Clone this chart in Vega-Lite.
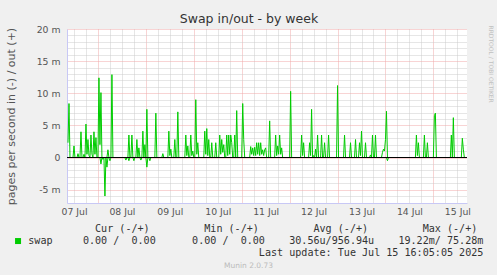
{
  "$schema": "https://vega.github.io/schema/vega-lite/v6.json",
  "width": 400,
  "height": 174,
  "autosize": {"type": "none"},
  "padding": {"left": 67, "top": 29, "right": 30, "bottom": 72},
  "background": "#f0f0f0",
  "title": {"text": "Swap in/out - by week", "font": "DejaVu Sans", "fontSize": 12.5, "fontWeight": "normal", "color": "#333333", "anchor": "middle", "frame": "group", "dx": -18, "offset": 0},
  "config": {"view": {"fill": "#ffffff", "stroke": null}, "font": "DejaVu Sans"},
  "data": {"values": [
    {"t":"2025-07-07T09:00:00Z","o":0.0023,"i":0},
    {"t":"2025-07-07T09:30:00Z","o":0.0084,"i":0},
    {"t":"2025-07-07T10:00:00Z","o":0,"i":0},
    {"t":"2025-07-07T11:30:00Z","o":0,"i":0},
    {"t":"2025-07-07T12:00:00Z","o":0.0018,"i":0},
    {"t":"2025-07-07T12:30:00Z","o":0,"i":0},
    {"t":"2025-07-07T13:30:00Z","o":0,"i":0},
    {"t":"2025-07-07T14:00:00Z","o":0.0006,"i":0},
    {"t":"2025-07-07T14:30:00Z","o":0,"i":0},
    {"t":"2025-07-07T15:00:00Z","o":0,"i":0},
    {"t":"2025-07-07T15:30:00Z","o":0.004,"i":0},
    {"t":"2025-07-07T16:00:00Z","o":0,"i":0},
    {"t":"2025-07-07T16:30:00Z","o":0,"i":0},
    {"t":"2025-07-07T17:00:00Z","o":0.0005,"i":0},
    {"t":"2025-07-07T17:30:00Z","o":0,"i":0},
    {"t":"2025-07-07T18:00:00Z","o":0.0052,"i":0},
    {"t":"2025-07-07T18:30:00Z","o":0.0005,"i":0},
    {"t":"2025-07-07T19:00:00Z","o":0.0028,"i":0},
    {"t":"2025-07-07T19:30:00Z","o":0.0003,"i":0},
    {"t":"2025-07-07T20:00:00Z","o":0,"i":0},
    {"t":"2025-07-07T20:30:00Z","o":0.0035,"i":0},
    {"t":"2025-07-07T21:00:00Z","o":0.0005,"i":0},
    {"t":"2025-07-07T21:30:00Z","o":0,"i":0},
    {"t":"2025-07-07T22:00:00Z","o":0.004,"i":0},
    {"t":"2025-07-07T22:30:00Z","o":0.0005,"i":0},
    {"t":"2025-07-07T23:00:00Z","o":0.0031,"i":0},
    {"t":"2025-07-07T23:30:00Z","o":0,"i":0},
    {"t":"2025-07-08T00:00:00Z","o":0,"i":0},
    {"t":"2025-07-08T00:30:00Z","o":0.0124,"i":0},
    {"t":"2025-07-08T01:00:00Z","o":0.002,"i":0},
    {"t":"2025-07-08T01:30:00Z","o":0.0101,"i":-0.001},
    {"t":"2025-07-08T02:00:00Z","o":0,"i":0},
    {"t":"2025-07-08T02:30:00Z","o":0,"i":-0.0003},
    {"t":"2025-07-08T03:00:00Z","o":0,"i":0},
    {"t":"2025-07-08T03:30:00Z","o":0,"i":-0.006},
    {"t":"2025-07-08T04:00:00Z","o":0,"i":0},
    {"t":"2025-07-08T04:30:00Z","o":0,"i":-0.0015},
    {"t":"2025-07-08T05:00:00Z","o":0.0012,"i":0},
    {"t":"2025-07-08T05:30:00Z","o":0,"i":0},
    {"t":"2025-07-08T06:00:00Z","o":0,"i":-0.0005},
    {"t":"2025-07-08T06:30:00Z","o":0,"i":0},
    {"t":"2025-07-08T07:00:00Z","o":0.0129,"i":0},
    {"t":"2025-07-08T07:30:00Z","o":0,"i":0},
    {"t":"2025-07-08T13:30:00Z","o":0,"i":0},
    {"t":"2025-07-08T14:00:00Z","o":0,"i":-0.0004},
    {"t":"2025-07-08T14:30:00Z","o":0,"i":0},
    {"t":"2025-07-08T15:00:00Z","o":0,"i":0},
    {"t":"2025-07-08T15:30:00Z","o":0.0035,"i":-0.0005},
    {"t":"2025-07-08T16:00:00Z","o":0,"i":0},
    {"t":"2025-07-08T16:30:00Z","o":0,"i":0},
    {"t":"2025-07-08T17:00:00Z","o":0.0035,"i":0},
    {"t":"2025-07-08T17:30:00Z","o":0,"i":0},
    {"t":"2025-07-08T18:00:00Z","o":0,"i":-0.0005},
    {"t":"2025-07-08T18:30:00Z","o":0,"i":0},
    {"t":"2025-07-08T19:00:00Z","o":0,"i":0},
    {"t":"2025-07-08T19:30:00Z","o":0.0028,"i":0},
    {"t":"2025-07-08T20:00:00Z","o":0,"i":0},
    {"t":"2025-07-08T20:30:00Z","o":0.0015,"i":0},
    {"t":"2025-07-08T21:00:00Z","o":0,"i":0},
    {"t":"2025-07-08T21:30:00Z","o":0,"i":-0.0004},
    {"t":"2025-07-08T22:00:00Z","o":0,"i":0},
    {"t":"2025-07-08T22:30:00Z","o":0.0041,"i":0},
    {"t":"2025-07-08T23:00:00Z","o":0,"i":0},
    {"t":"2025-07-08T23:30:00Z","o":0.002,"i":0},
    {"t":"2025-07-09T00:00:00Z","o":0,"i":0},
    {"t":"2025-07-09T00:30:00Z","o":0.0075,"i":-0.0015},
    {"t":"2025-07-09T01:00:00Z","o":0,"i":0},
    {"t":"2025-07-09T01:30:00Z","o":0,"i":0},
    {"t":"2025-07-09T02:00:00Z","o":0,"i":-0.0005},
    {"t":"2025-07-09T02:30:00Z","o":0,"i":0},
    {"t":"2025-07-09T04:30:00Z","o":0,"i":0},
    {"t":"2025-07-09T05:00:00Z","o":0.0069,"i":0},
    {"t":"2025-07-09T05:30:00Z","o":0,"i":0},
    {"t":"2025-07-09T08:00:00Z","o":0,"i":0},
    {"t":"2025-07-09T08:30:00Z","o":0.0006,"i":0},
    {"t":"2025-07-09T09:00:00Z","o":0,"i":0},
    {"t":"2025-07-09T11:00:00Z","o":0,"i":0},
    {"t":"2025-07-09T11:30:00Z","o":0.0041,"i":0},
    {"t":"2025-07-09T12:00:00Z","o":0.0003,"i":0},
    {"t":"2025-07-09T12:30:00Z","o":0.0013,"i":0},
    {"t":"2025-07-09T13:00:00Z","o":0,"i":0},
    {"t":"2025-07-09T14:00:00Z","o":0,"i":0},
    {"t":"2025-07-09T14:30:00Z","o":0.0028,"i":0},
    {"t":"2025-07-09T15:00:00Z","o":0,"i":0},
    {"t":"2025-07-09T15:30:00Z","o":0,"i":0},
    {"t":"2025-07-09T16:00:00Z","o":0.0071,"i":0},
    {"t":"2025-07-09T16:30:00Z","o":0,"i":0},
    {"t":"2025-07-09T19:30:00Z","o":0,"i":0},
    {"t":"2025-07-09T20:00:00Z","o":0.0035,"i":0},
    {"t":"2025-07-09T20:30:00Z","o":0.0003,"i":0},
    {"t":"2025-07-09T21:00:00Z","o":0.0018,"i":0},
    {"t":"2025-07-09T21:30:00Z","o":0,"i":0},
    {"t":"2025-07-09T22:00:00Z","o":0,"i":0},
    {"t":"2025-07-09T22:30:00Z","o":0.0035,"i":0},
    {"t":"2025-07-09T23:00:00Z","o":0.0003,"i":0},
    {"t":"2025-07-09T23:30:00Z","o":0.001,"i":0},
    {"t":"2025-07-10T00:00:00Z","o":0,"i":0},
    {"t":"2025-07-10T00:30:00Z","o":0,"i":0},
    {"t":"2025-07-10T01:00:00Z","o":0.009,"i":0},
    {"t":"2025-07-10T01:30:00Z","o":0.0005,"i":0},
    {"t":"2025-07-10T02:00:00Z","o":0.0023,"i":0},
    {"t":"2025-07-10T02:30:00Z","o":0,"i":0},
    {"t":"2025-07-10T05:00:00Z","o":0,"i":0},
    {"t":"2025-07-10T05:30:00Z","o":0.0041,"i":0},
    {"t":"2025-07-10T06:00:00Z","o":0.0005,"i":0},
    {"t":"2025-07-10T06:30:00Z","o":0.0045,"i":0},
    {"t":"2025-07-10T07:00:00Z","o":0.0003,"i":0},
    {"t":"2025-07-10T07:30:00Z","o":0.0028,"i":0},
    {"t":"2025-07-10T08:00:00Z","o":0,"i":0},
    {"t":"2025-07-10T08:30:00Z","o":0,"i":0},
    {"t":"2025-07-10T09:00:00Z","o":0.0023,"i":0},
    {"t":"2025-07-10T09:30:00Z","o":0,"i":0},
    {"t":"2025-07-10T10:30:00Z","o":0,"i":0},
    {"t":"2025-07-10T11:00:00Z","o":0.0023,"i":0},
    {"t":"2025-07-10T11:30:00Z","o":0,"i":0},
    {"t":"2025-07-10T12:30:00Z","o":0,"i":0},
    {"t":"2025-07-10T13:00:00Z","o":0.0035,"i":0},
    {"t":"2025-07-10T13:30:00Z","o":0.0005,"i":0},
    {"t":"2025-07-10T14:00:00Z","o":0.0028,"i":0},
    {"t":"2025-07-10T14:30:00Z","o":0.0008,"i":0},
    {"t":"2025-07-10T15:00:00Z","o":0.002,"i":0},
    {"t":"2025-07-10T15:30:00Z","o":0,"i":0},
    {"t":"2025-07-10T16:00:00Z","o":0,"i":0},
    {"t":"2025-07-10T16:30:00Z","o":0.0035,"i":0},
    {"t":"2025-07-10T17:00:00Z","o":0.0003,"i":0},
    {"t":"2025-07-10T17:30:00Z","o":0.0035,"i":0},
    {"t":"2025-07-10T18:00:00Z","o":0.0005,"i":0},
    {"t":"2025-07-10T18:30:00Z","o":0.0035,"i":0},
    {"t":"2025-07-10T19:00:00Z","o":0.0023,"i":0},
    {"t":"2025-07-10T19:30:00Z","o":0,"i":0},
    {"t":"2025-07-10T20:00:00Z","o":0,"i":0},
    {"t":"2025-07-10T20:30:00Z","o":0.0035,"i":0},
    {"t":"2025-07-10T21:00:00Z","o":0,"i":0},
    {"t":"2025-07-10T21:30:00Z","o":0.0073,"i":0},
    {"t":"2025-07-10T22:00:00Z","o":0,"i":0},
    {"t":"2025-07-11T00:00:00Z","o":0,"i":0},
    {"t":"2025-07-11T00:30:00Z","o":0.0084,"i":0},
    {"t":"2025-07-11T01:00:00Z","o":0.0028,"i":0},
    {"t":"2025-07-11T01:30:00Z","o":0,"i":0},
    {"t":"2025-07-11T04:00:00Z","o":0,"i":0},
    {"t":"2025-07-11T04:30:00Z","o":0.0017,"i":0},
    {"t":"2025-07-11T05:00:00Z","o":0.0005,"i":0},
    {"t":"2025-07-11T05:30:00Z","o":0.0015,"i":0},
    {"t":"2025-07-11T06:00:00Z","o":0.0003,"i":0},
    {"t":"2025-07-11T06:30:00Z","o":0.0016,"i":0},
    {"t":"2025-07-11T07:00:00Z","o":0.0003,"i":0},
    {"t":"2025-07-11T07:30:00Z","o":0.0023,"i":0},
    {"t":"2025-07-11T08:00:00Z","o":0.0005,"i":0},
    {"t":"2025-07-11T08:30:00Z","o":0.0023,"i":0},
    {"t":"2025-07-11T09:00:00Z","o":0.0003,"i":0},
    {"t":"2025-07-11T09:30:00Z","o":0.0023,"i":0},
    {"t":"2025-07-11T10:00:00Z","o":0.0005,"i":0},
    {"t":"2025-07-11T10:30:00Z","o":0.0012,"i":0},
    {"t":"2025-07-11T11:00:00Z","o":0.0003,"i":0},
    {"t":"2025-07-11T11:30:00Z","o":0.0012,"i":0},
    {"t":"2025-07-11T12:00:00Z","o":0.0015,"i":0},
    {"t":"2025-07-11T12:30:00Z","o":0,"i":0},
    {"t":"2025-07-11T13:30:00Z","o":0,"i":0},
    {"t":"2025-07-11T14:00:00Z","o":0.0057,"i":0},
    {"t":"2025-07-11T14:30:00Z","o":0,"i":0},
    {"t":"2025-07-11T16:30:00Z","o":0,"i":0},
    {"t":"2025-07-11T17:00:00Z","o":0.0035,"i":0},
    {"t":"2025-07-11T17:30:00Z","o":0.0003,"i":0},
    {"t":"2025-07-11T18:00:00Z","o":0.0018,"i":0},
    {"t":"2025-07-11T18:30:00Z","o":0.0005,"i":0},
    {"t":"2025-07-11T19:00:00Z","o":0.0035,"i":0},
    {"t":"2025-07-11T19:30:00Z","o":0.0005,"i":0},
    {"t":"2025-07-11T20:00:00Z","o":0.0015,"i":0},
    {"t":"2025-07-11T20:30:00Z","o":0,"i":0},
    {"t":"2025-07-12T00:00:00Z","o":0,"i":0},
    {"t":"2025-07-12T00:30:00Z","o":0.0103,"i":0},
    {"t":"2025-07-12T01:00:00Z","o":0,"i":0},
    {"t":"2025-07-12T05:30:00Z","o":0,"i":0},
    {"t":"2025-07-12T06:00:00Z","o":0.0035,"i":0},
    {"t":"2025-07-12T06:30:00Z","o":0.0003,"i":0},
    {"t":"2025-07-12T07:00:00Z","o":0.0023,"i":0},
    {"t":"2025-07-12T07:30:00Z","o":0,"i":0},
    {"t":"2025-07-12T09:30:00Z","o":0,"i":0},
    {"t":"2025-07-12T10:00:00Z","o":0.0023,"i":0},
    {"t":"2025-07-12T10:30:00Z","o":0.0003,"i":0},
    {"t":"2025-07-12T11:00:00Z","o":0.0075,"i":0},
    {"t":"2025-07-12T11:30:00Z","o":0,"i":0},
    {"t":"2025-07-12T12:00:00Z","o":0.0003,"i":0},
    {"t":"2025-07-12T12:30:00Z","o":0,"i":0},
    {"t":"2025-07-12T13:00:00Z","o":0.0013,"i":0},
    {"t":"2025-07-12T13:30:00Z","o":0,"i":0},
    {"t":"2025-07-12T14:00:00Z","o":0.0035,"i":0},
    {"t":"2025-07-12T14:30:00Z","o":0,"i":0},
    {"t":"2025-07-12T15:30:00Z","o":0,"i":0},
    {"t":"2025-07-12T16:00:00Z","o":0.0035,"i":0},
    {"t":"2025-07-12T16:30:00Z","o":0,"i":0},
    {"t":"2025-07-12T17:00:00Z","o":0,"i":0},
    {"t":"2025-07-12T17:30:00Z","o":0.0023,"i":0},
    {"t":"2025-07-12T18:00:00Z","o":0,"i":0},
    {"t":"2025-07-12T19:00:00Z","o":0,"i":0},
    {"t":"2025-07-12T19:30:00Z","o":0.0035,"i":0},
    {"t":"2025-07-12T20:00:00Z","o":0,"i":0},
    {"t":"2025-07-12T23:30:00Z","o":0,"i":0},
    {"t":"2025-07-13T00:00:00Z","o":0.0112,"i":0},
    {"t":"2025-07-13T00:30:00Z","o":0,"i":0},
    {"t":"2025-07-13T03:00:00Z","o":0,"i":0},
    {"t":"2025-07-13T03:30:00Z","o":0.0035,"i":0},
    {"t":"2025-07-13T04:00:00Z","o":0,"i":0},
    {"t":"2025-07-13T06:00:00Z","o":0,"i":0},
    {"t":"2025-07-13T06:30:00Z","o":0.0023,"i":0},
    {"t":"2025-07-13T07:00:00Z","o":0,"i":0},
    {"t":"2025-07-13T08:30:00Z","o":0,"i":0},
    {"t":"2025-07-13T09:00:00Z","o":0.0028,"i":0},
    {"t":"2025-07-13T09:30:00Z","o":0,"i":0},
    {"t":"2025-07-13T10:30:00Z","o":0,"i":0},
    {"t":"2025-07-13T11:00:00Z","o":0.0023,"i":0},
    {"t":"2025-07-13T11:30:00Z","o":0.0003,"i":0},
    {"t":"2025-07-13T12:00:00Z","o":0.0041,"i":0},
    {"t":"2025-07-13T12:30:00Z","o":0,"i":0},
    {"t":"2025-07-13T13:30:00Z","o":0,"i":0},
    {"t":"2025-07-13T14:00:00Z","o":0.0023,"i":0},
    {"t":"2025-07-13T14:30:00Z","o":0,"i":0},
    {"t":"2025-07-13T16:00:00Z","o":0,"i":0},
    {"t":"2025-07-13T16:30:00Z","o":0.0004,"i":0},
    {"t":"2025-07-13T17:00:00Z","o":0,"i":0},
    {"t":"2025-07-13T17:30:00Z","o":0.0035,"i":0},
    {"t":"2025-07-13T18:00:00Z","o":0,"i":0},
    {"t":"2025-07-13T18:30:00Z","o":0,"i":0},
    {"t":"2025-07-13T19:00:00Z","o":0.0035,"i":0},
    {"t":"2025-07-13T19:30:00Z","o":0,"i":0},
    {"t":"2025-07-13T22:00:00Z","o":0,"i":0},
    {"t":"2025-07-13T22:30:00Z","o":0.0008,"i":0},
    {"t":"2025-07-13T23:00:00Z","o":0.0013,"i":0},
    {"t":"2025-07-13T23:30:00Z","o":0.001,"i":0},
    {"t":"2025-07-14T00:00:00Z","o":0.0028,"i":0},
    {"t":"2025-07-14T00:30:00Z","o":0.0072,"i":0},
    {"t":"2025-07-14T01:00:00Z","o":0,"i":-0.0005},
    {"t":"2025-07-14T01:30:00Z","o":0,"i":0},
    {"t":"2025-07-14T15:00:00Z","o":0,"i":0},
    {"t":"2025-07-14T15:30:00Z","o":0.0035,"i":0},
    {"t":"2025-07-14T16:00:00Z","o":0.0003,"i":0},
    {"t":"2025-07-14T16:30:00Z","o":0.0023,"i":0},
    {"t":"2025-07-14T17:00:00Z","o":0,"i":0},
    {"t":"2025-07-14T19:00:00Z","o":0,"i":0},
    {"t":"2025-07-14T19:30:00Z","o":0.0035,"i":0},
    {"t":"2025-07-14T20:00:00Z","o":0,"i":0},
    {"t":"2025-07-14T20:30:00Z","o":0,"i":0},
    {"t":"2025-07-14T21:00:00Z","o":0.0023,"i":0},
    {"t":"2025-07-14T21:30:00Z","o":0,"i":0},
    {"t":"2025-07-15T00:00:00Z","o":0,"i":0},
    {"t":"2025-07-15T00:30:00Z","o":0.0065,"i":0},
    {"t":"2025-07-15T01:00:00Z","o":0.0069,"i":0},
    {"t":"2025-07-15T01:30:00Z","o":0,"i":0},
    {"t":"2025-07-15T08:30:00Z","o":0,"i":0},
    {"t":"2025-07-15T09:00:00Z","o":0.0035,"i":0},
    {"t":"2025-07-15T09:30:00Z","o":0,"i":0},
    {"t":"2025-07-15T10:00:00Z","o":0.0062,"i":0},
    {"t":"2025-07-15T10:30:00Z","o":0,"i":0},
    {"t":"2025-07-15T14:00:00Z","o":0,"i":0},
    {"t":"2025-07-15T14:30:00Z","o":0.003,"i":0},
    {"t":"2025-07-15T15:00:00Z","o":0.0013,"i":0},
    {"t":"2025-07-15T15:30:00Z","o":0,"i":0}
  ]},
  "layer": [
    {
      "mark": {"type": "line", "strokeWidth": 1, "clip": true, "interpolate": "linear"},
      "encoding": {
        "x": {
          "field": "t", "type": "temporal",
          "scale": {"type": "utc", "nice": false, "domain": [{"year": 2025, "month": 7, "date": 7, "hours": 8, "minutes": 30, "utc": true}, {"year": 2025, "month": 7, "date": 15, "hours": 16, "minutes": 50, "utc": true}]},
          "axis": {
            "orient": "bottom",
            "values": [1751889600000, 1751911200000, 1751932800000, 1751954400000, 1751976000000, 1751997600000, 1752019200000, 1752040800000, 1752062400000, 1752084000000, 1752105600000, 1752127200000, 1752148800000, 1752170400000, 1752192000000, 1752213600000, 1752235200000, 1752256800000, 1752278400000, 1752300000000, 1752321600000, 1752343200000, 1752364800000, 1752386400000, 1752408000000, 1752429600000, 1752451200000, 1752472800000, 1752494400000, 1752516000000, 1752537600000, 1752559200000, 1752580800000],
            "grid": true,
            "gridColor": {"condition": {"test": "utchours(datum.value) == 0", "value": "#f0a8a8"}, "value": "#cccccc"},
            "gridDash": [1, 1],
            "ticks": false,
            "domain": true,
            "domainColor": "#c8c8f5",
            "labelExpr": "utchours(datum.value) == 12 ? utcFormat(datum.value, '%d %b') : ''",
            "labelFont": "DejaVu Sans",
            "labelFontSize": 9.3,
            "labelColor": "#555555",
            "labelPadding": 4,
            "labelOverlap": false,
            "labelFlush": false,
            "title": [
              "\u200b\u00a0\u00a0\u00a0\u00a0\u00a0\u00a0\u00a0\u00a0\u00a0\u00a0\u00a0Cur\u00a0(-/+)\u00a0\u00a0\u00a0\u00a0\u00a0\u00a0\u00a0\u00a0\u00a0Min\u00a0(-/+)\u00a0\u00a0\u00a0\u00a0\u00a0\u00a0\u00a0\u00a0\u00a0Avg\u00a0(-/+)\u00a0\u00a0\u00a0\u00a0\u00a0\u00a0\u00a0\u00a0\u00a0Max\u00a0(-/+)",
              "swap\u00a0\u00a0\u00a0\u00a0\u00a00.00\u00a0/\u00a0\u00a00.00\u00a0\u00a0\u00a0\u00a0\u00a0\u00a00.00\u00a0/\u00a0\u00a00.00\u00a0\u00a0\u00a0\u00a030.56u/956.94u\u00a0\u00a0\u00a0\u00a019.22m/\u00a075.28m",
              "\u200b\u00a0\u00a0\u00a0\u00a0\u00a0\u00a0\u00a0\u00a0\u00a0\u00a0\u00a0\u00a0\u00a0\u00a0\u00a0\u00a0\u00a0\u00a0\u00a0\u00a0\u00a0\u00a0\u00a0\u00a0\u00a0\u00a0\u00a0\u00a0\u00a0\u00a0\u00a0\u00a0\u00a0\u00a0\u00a0\u00a0\u00a0\u00a0Last\u00a0update:\u00a0Tue\u00a0Jul\u00a015\u00a016:05:05\u00a02025"
            ],
            "titleFont": "DejaVu Sans Mono",
            "titleFontSize": 10.08,
            "titleFontWeight": "normal",
            "titleColor": "#333333",
            "titleAlign": "left",
            "titleBaseline": "alphabetic",
            "titleLineHeight": 12,
            "titleX": -39.2,
            "titleY": 28
          }
        },
        "y": {
          "field": "o", "type": "quantitative",
          "scale": {"domain": [-0.0070817, 0.02], "nice": false, "zero": false},
          "axis": {
            "values": [-0.006, -0.005, -0.004, -0.003, -0.002, -0.001, 0, 0.001, 0.002, 0.003, 0.004, 0.005, 0.006, 0.007, 0.008, 0.009, 0.01, 0.011, 0.012, 0.013, 0.014, 0.015, 0.016, 0.017, 0.018, 0.019, 0.02],
            "grid": true,
            "gridColor": {"condition": {"test": "abs(round(datum.value * 1000)) % 5 == 0", "value": "#f0a8a8"}, "value": "#cccccc"},
            "gridDash": [1, 1],
            "ticks": false,
            "domain": true,
            "domainColor": "#c8c8f5",
            "labelExpr": "abs(round(datum.value * 1000)) % 5 == 0 ? (round(datum.value * 1000) == 0 ? '0' : round(datum.value * 1000) + ' m') : ''",
            "labelFont": "DejaVu Sans",
            "labelFontSize": 9.3,
            "labelColor": "#555555",
            "labelPadding": 7,
            "labelOverlap": false,
            "title": "pages per second in (-) / out (+)",
            "titleFont": "DejaVu Sans",
            "titleFontSize": 11,
            "titleFontWeight": "normal",
            "titleColor": "#555555",
            "titleAngle": -90,
            "titleX": -56,
            "titleY": 87,
            "titleAlign": "center",
            "titleBaseline": "middle"
          }
        },
        "color": {
          "datum": "swap",
          "scale": {"range": ["#00cc00"]},
          "legend": {
            "orient": "none",
            "legendX": -54,
            "legendY": 207,
            "title": null,
            "padding": 0,
            "symbolType": "square",
            "symbolSize": 36,
            "symbolFillColor": "#00cc00",
            "symbolStrokeWidth": 0,
            "labelExpr": "''",
            "labelFont": "DejaVu Sans Mono",
            "labelFontSize": 10.08,
            "labelColor": "#333333",
            "labelOffset": 0,
            "encode": {"symbols": {"update": {"fill": {"value": "#00cc00"}, "stroke": {"value": "#00cc00"}, "strokeWidth": {"value": 0}, "shape": {"value": "square"}}}}
          }
        }
      }
    },
    {
      "mark": {"type": "line", "strokeWidth": 1, "clip": true, "interpolate": "linear"},
      "encoding": {
        "x": {
          "field": "t", "type": "temporal",
          "scale": {"type": "utc", "nice": false, "domain": [{"year": 2025, "month": 7, "date": 7, "hours": 8, "minutes": 30, "utc": true}, {"year": 2025, "month": 7, "date": 15, "hours": 16, "minutes": 50, "utc": true}]},
          "axis": {
            "orient": "bottom",
            "labels": false,
            "ticks": false,
            "domain": false,
            "grid": false,
            "title": "Munin 2.0.73",
            "titleFont": "DejaVu Sans",
            "titleFontSize": 7.5,
            "titleFontWeight": "normal",
            "titleColor": "#bbbbbb",
            "titleAlign": "center",
            "titleBaseline": "alphabetic",
            "titleX": 181,
            "titleY": 64
          }
        },
        "y": {
          "field": "i", "type": "quantitative",
          "scale": {"domain": [-0.0070817, 0.02], "nice": false, "zero": false},
          "axis": {
            "orient": "right",
            "labels": false,
            "ticks": false,
            "domain": false,
            "grid": false,
            "title": "RRDTOOL / TOBI OETIKER",
            "titleFont": "DejaVu Sans",
            "titleFontSize": 6,
            "titleFontWeight": "normal",
            "titleColor": "#c0c0c0",
            "titleAngle": 90,
            "titleAlign": "left",
            "titleBaseline": "middle",
            "titleX": 23,
            "titleY": -4
          }
        },
        "color": {"datum": "swap"}
      }
    },
    {
      "mark": {"type": "rule", "color": "#000000", "strokeWidth": 1},
      "encoding": {"y": {"datum": 0, "type": "quantitative", "axis": null}}
    }
  ],
  "resolve": {"axis": {"x": "independent", "y": "independent"}}
}
